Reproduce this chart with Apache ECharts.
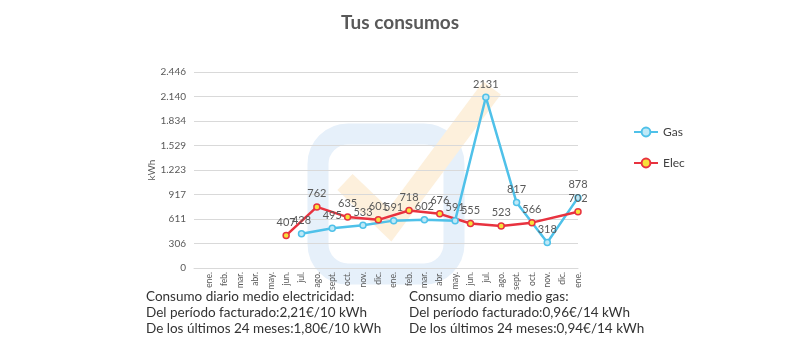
<!DOCTYPE html>
<html>
<head>
<meta charset="utf-8">
<script src="https://cdn.jsdelivr.net/npm/echarts@6/dist/echarts.min.js"></script>
<style>
  html, body { margin: 0; padding: 0; background: #fff; }
  #main { width: 800px; height: 350px; }
</style>
</head>
<body>
<div id="main"></div>
<script>
// meses (facturas bimestrales)
var months = ['ene.', 'feb.', 'mar.', 'abr.', 'may.', 'jun.', 'jul.', 'ago.', 'sept.', 'oct.', 'nov.', 'dic.',
              'ene.', 'feb.', 'mar.', 'abr.', 'may.', 'jun.', 'jul.', 'ago.', 'sept.', 'oct.', 'nov.', 'dic.', 'ene.'];
var gas  = [null, null, null, null, null, null, 428, null, 495, null, 533, null,
            591, null, 602, null, 591, null, 2131, null, 817, null, 318, null, 878];
var elec = [null, null, null, null, null, 407, null, 762, null, 635, null, 601,
            null, 718, null, 676, null, 555, null, 523, null, 566, null, null, 702];
var yTickLabels = ['0', '306', '611', '917', '1.223', '1.529', '1.834', '2.140', '2.446'];

var elecText = ['Consumo diario medio electricidad:', 'Del período facturado:2,21€/10 kWh', 'De los últimos 24 meses:1,80€/10 kWh'];
var gasText  = ['Consumo diario medio gas:', 'Del período facturado:0,96€/14 kWh', 'De los últimos 24 meses:0,94€/14 kWh'];

var font = 'Lato, "Open Sans", sans-serif';

var myChart = echarts.init(document.getElementById('main'));

myChart.setOption({
  backgroundColor: '#fff',
  textStyle: { fontFamily: font },
  title: {
    text: 'Tus consumos',
    left: 'center',
    top: 8,
    textStyle: { fontSize: 19, fontWeight: 'bold', color: '#595959', fontFamily: font }
  },
  legend: {
    orient: 'vertical',
    left: 628,
    top: 121,
    itemGap: 19,
    itemWidth: 24,
    itemHeight: 11,
    textStyle: { fontSize: 12, color: '#404040' },
    data: ['Gas', 'Elec']
  },
  grid: { left: 194, right: 222, top: 72, bottom: 82 },
  xAxis: {
    type: 'category',
    data: months,
    boundaryGap: false,
    min: -1,
    axisLine: { lineStyle: { color: '#d9d9d9' } },
    axisTick: { show: false },
    axisLabel: {
      interval: 0,
      rotate: 90,
      fontSize: 8.5,
      color: '#595959',
      margin: 4,
      formatter: function (v) { return v == null ? '' : v; }
    }
  },
  yAxis: {
    type: 'value',
    name: 'kWh',
    nameLocation: 'middle',
    nameGap: 36,
    nameTextStyle: { fontSize: 10, color: '#595959' },
    min: 0,
    max: 2445.76,
    interval: 305.72,
    axisLine: { show: false },
    axisTick: { show: false },
    splitLine: { lineStyle: { color: '#d9d9d9' } },
    axisLabel: {
      fontSize: 10,
      color: '#595959',
      margin: 8,
      formatter: function (v, i) { return yTickLabels[i]; }
    }
  },
  series: [
    {
      name: 'Gas',
      type: 'line',
      data: gas,
      connectNulls: true,
      symbol: 'circle',
      symbolSize: 6,
      lineStyle: { color: '#4fc1e9', width: 2.5 },
      itemStyle: { color: '#bfe9f7', borderColor: '#4fc1e9', borderWidth: 1.5 },
      label: { show: true, position: 'top', distance: 4, fontSize: 11, color: '#595959' }
    },
    {
      name: 'Elec',
      type: 'line',
      data: elec,
      connectNulls: true,
      symbol: 'circle',
      symbolSize: 6,
      lineStyle: { color: '#e8323f', width: 2.5 },
      itemStyle: { color: '#f7e13a', borderColor: '#e8323f', borderWidth: 1.5 },
      label: { show: true, position: 'top', distance: 4, fontSize: 11, color: '#595959' }
    }
  ],
  graphic: [
    // marca de agua
    {
      type: 'rect', z: -10, silent: true,
      shape: { x: 318, y: 134, width: 136, height: 140, r: 30 },
      style: { fill: null, stroke: '#e6f0fa', lineWidth: 21 }
    },
    {
      type: 'polyline', z: -9, silent: true,
      shape: { points: [[345, 182], [390, 225], [492, 88]] },
      style: { fill: null, stroke: '#fdf0dc', lineWidth: 22, lineJoin: 'miter' }
    },
    {
      type: 'text', left: 146, top: 289,
      style: { text: elecText.join('\n'), font: '13.5px ' + font, lineHeight: 16, fill: '#333' }
    },
    {
      type: 'text', left: 409, top: 289,
      style: { text: gasText.join('\n'), font: '13.5px ' + font, lineHeight: 16, fill: '#333' }
    }
  ]
});
</script>
</body>
</html>
